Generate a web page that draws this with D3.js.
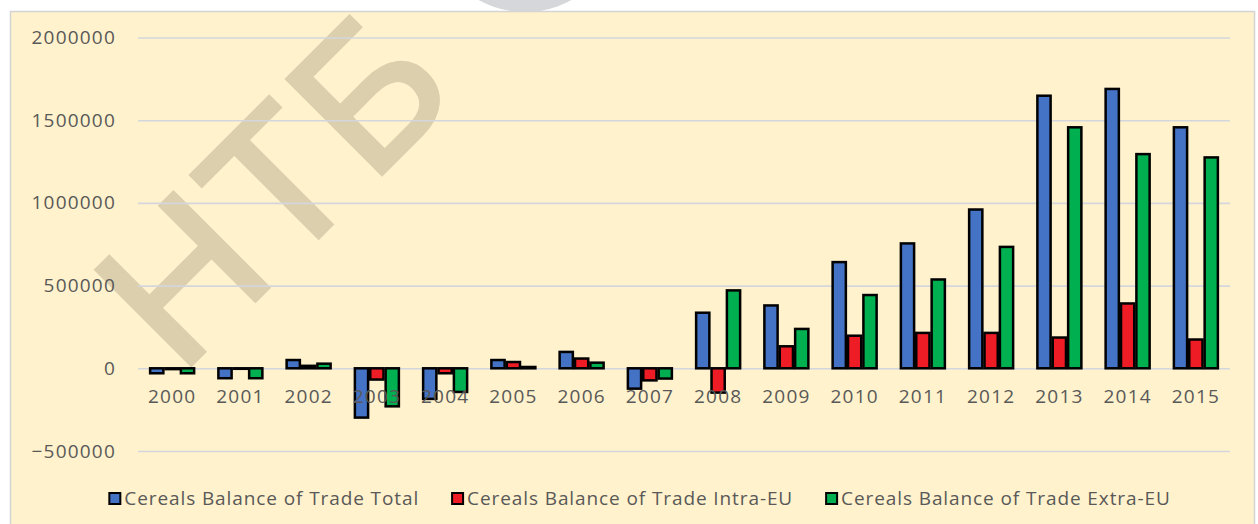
<!DOCTYPE html>
<html>
<head>
<meta charset="utf-8">
<script src="https://cdn.jsdelivr.net/npm/d3@7"></script>
<style>
  body { margin: 0; background: #ffffff; }
  svg { display: block; }
</style>
</head>
<body>
<div id="chart"></div>
<script>
// chart data
var years = ["2000", "2001", "2002", "2003", "2004", "2005", "2006", "2007",
             "2008", "2009", "2010", "2011", "2012", "2013", "2014", "2015"];
var totalTrade = [-30000, -60000, 50000, -298000, -185000, 50000, 99000, -123000,
                  336000, 380000, 642000, 755000, 960000, 1648000, 1689000, 1457000];
var intraEU = [-5000, -3000, 15000, -68000, -30000, 38000, 59000, -73000,
               -147000, 133000, 197000, 214000, 214000, 186000, 392000, 174000];
var extraEU = [-30000, -60000, 28000, -230000, -143000, 8000, 34000, -62000,
               471000, 238000, 443000, 537000, 734000, 1457000, 1295000, 1275000];
var seriesNames = ["Cereals Balance of Trade Total",
                   "Cereals Balance of Trade Intra-EU",
                   "Cereals Balance of Trade Extra-EU"];
var seriesColors = ["#4472c4", "#ee1c25", "#00b050"];
var yTicks = [-500000, 0, 500000, 1000000, 1500000, 2000000];

var W = 1258, H = 524;
var plot = {left: 138, right: 1230, top: 37.5, bottom: 451};
var labelFont = "'Open Sans', sans-serif";
var textColor = "#595959";

var svg = d3.select("#chart").append("svg")
    .attr("width", W)
    .attr("height", H);

// chart frame fill
svg.append("rect")
    .attr("x", 10.5).attr("y", 11.5)
    .attr("width", 1244).attr("height", 530)
    .attr("fill", "#fff2cc");

// watermark text (behind grid and bars)
svg.append("text")
    .attr("transform", "translate(180,376) rotate(-45)")
    .style("font-family", "'Liberation Sans', sans-serif")
    .style("font-size", "195px")
    .style("letter-spacing", "5px")
    .attr("fill", "#dccfae")
    .attr("stroke", "#dccfae")
    .attr("stroke-width", 4)
    .attr("stroke-linejoin", "miter")
    .text("НТБ");

// white page above the frame hides the watermark there,
// and the grey piece of another watermark sits on it
svg.append("rect")
    .attr("x", 0).attr("y", 0).attr("width", W).attr("height", 11)
    .attr("fill", "#ffffff");
svg.append("path")
    .attr("d", d3.arc()({innerRadius: 0, outerRadius: 96,
                         startAngle: Math.PI / 2 + 0.2, endAngle: 3 * Math.PI / 2 - 0.2}))
    .attr("transform", "translate(525,-84)")
    .attr("fill", "#d6d7db");

// frame border
svg.append("rect")
    .attr("x", 10.5).attr("y", 11.5)
    .attr("width", 1244).attr("height", 530)
    .attr("fill", "none")
    .attr("stroke", "#d4d4d4")
    .attr("stroke-width", 1.5);

// scales
var data = years.map(function(y, i) {
  return {year: y, values: [totalTrade[i], intraEU[i], extraEU[i]]};
});

var x0 = d3.scaleBand()
    .domain(years)
    .range([plot.left, plot.right])
    .paddingInner(0)
    .paddingOuter(0);

var groupW = 44;
var x1 = d3.scaleBand()
    .domain([0, 1, 2])
    .range([(x0.bandwidth() - groupW) / 2, (x0.bandwidth() + groupW) / 2])
    .paddingInner(0.14);

var y = d3.scaleLinear()
    .domain([-500000, 2000000])
    .range([plot.bottom, plot.top]);

// gridlines + y labels
var yAxis = svg.append("g")
    .attr("transform", "translate(" + plot.left + ",0)")
    .call(d3.axisLeft(y)
        .tickValues(yTicks)
        .tickFormat(d3.format("d"))
        .tickSize(-(plot.right - plot.left))
        .tickPadding(22));

yAxis.select(".domain").remove();
yAxis.selectAll(".tick line")
    .attr("stroke", "#d3d6dc")
    .attr("stroke-width", 1.6);
yAxis.selectAll(".tick text")
    .attr("fill", textColor)
    .style("font-family", labelFont)
    .style("font-size", "19px")
    .style("letter-spacing", "1.2px");

// bars
var groups = svg.append("g").selectAll("g")
    .data(data)
    .enter().append("g")
    .attr("transform", function(d) { return "translate(" + x0(d.year) + ",0)"; });

groups.selectAll("rect")
    .data(function(d) { return d.values; })
    .enter().append("rect")
    .attr("x", function(d, i) { return x1(i); })
    .attr("y", function(d) { return y(Math.max(0, d)); })
    .attr("width", x1.bandwidth())
    .attr("height", function(d) { return Math.abs(y(d) - y(0)); })
    .attr("fill", function(d, i) { return seriesColors[i]; })
    .attr("stroke", "#000")
    .attr("stroke-width", 2.5);

// x labels (next to the zero line)
var xAxis = svg.append("g")
    .attr("transform", "translate(0," + y(0) + ")")
    .call(d3.axisBottom(x0).tickSize(0).tickPadding(21));

xAxis.select(".domain").remove();
xAxis.selectAll(".tick text")
    .attr("fill", textColor)
    .style("font-family", labelFont)
    .style("font-size", "19px")
    .style("letter-spacing", "1.2px");

// legend
var legend = svg.append("g");
var items = legend.selectAll("g")
    .data(seriesNames)
    .enter().append("g");

items.append("rect")
    .attr("width", 11).attr("height", 11)
    .attr("y", -11)
    .attr("fill", function(d, i) { return seriesColors[i]; })
    .attr("stroke", "#000")
    .attr("stroke-width", 2);

items.append("text")
    .attr("x", 15)
    .attr("y", 1)
    .attr("fill", textColor)
    .style("font-family", labelFont)
    .style("font-size", "19px")
    .style("letter-spacing", "0.9px")
    .text(function(d) { return d; });

// lay legend items out in a row, centred in the frame
var offset = 0;
var widths = [];
items.each(function() {
  widths.push(15 + d3.select(this).select("text").node().getComputedTextLength());
});
var gap = 33;
var total = d3.sum(widths) + gap * (widths.length - 1);
var startX = 640 - total / 2;
items.attr("transform", function(d, i) {
  var t = "translate(" + (startX + offset) + ",504)";
  offset += widths[i] + gap;
  return t;
});
</script>
</body>
</html>
